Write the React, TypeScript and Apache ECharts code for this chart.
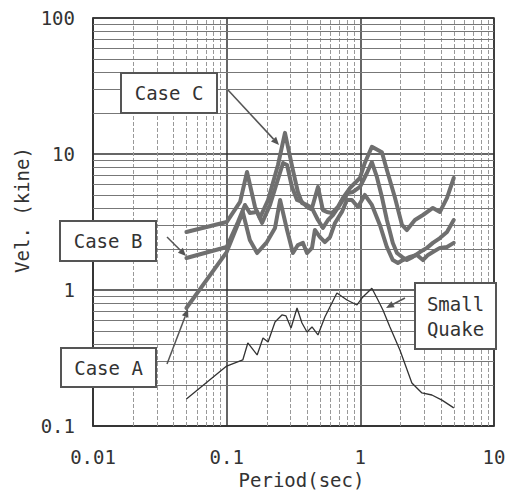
import React, { useEffect, useRef } from "react";
import * as echarts from "echarts";

// ---- tick labels ----
const xTickLabels = ["0.01", "0.1", "1", "10"];
const yTickLabels = ["0.1", "1", "10", "100"];

// ---- series data (period in sec, velocity in kine) ----
const caseAPeriod = [0.05, 0.1, 0.119, 0.132, 0.149, 0.169, 0.2, 0.23, 0.251, 0.283, 0.313, 0.341, 0.372, 0.399, 0.435, 0.457, 0.499, 0.543, 0.593, 0.646, 0.728, 0.794, 0.865, 0.959, 1.08, 1.22, 1.4, 1.58, 1.75, 1.91, 2.08, 2.35, 2.65, 2.94, 3.21, 3.49, 3.94, 4.45, 5.0];
const caseAVel = [0.737, 1.9, 2.9, 3.75, 2.33, 1.87, 2.25, 2.86, 4.59, 2.76, 1.87, 2.14, 2.22, 1.87, 2.04, 2.76, 2.45, 2.25, 2.45, 3.11, 3.75, 4.59, 4.59, 4.08, 5.0, 4.22, 3.01, 2.07, 1.66, 1.58, 1.66, 1.75, 1.81, 1.66, 1.81, 1.9, 2.04, 2.07, 2.22];

const caseBPeriod = [0.05, 0.1, 0.1215, 0.137, 0.149, 0.169, 0.184, 0.211, 0.264, 0.283, 0.308, 0.336, 0.366, 0.399, 0.442, 0.482, 0.525, 0.573, 0.624, 0.679, 0.741, 0.807, 0.881, 0.993, 1.12, 1.22, 1.33, 1.45, 1.58, 1.75, 1.88, 2.05, 2.23, 2.47, 2.79, 3.15, 3.49, 3.94, 4.45, 5.0];
const caseBVel = [1.72, 2.07, 3.16, 4.22, 3.68, 3.75, 3.11, 4.22, 8.59, 8.3, 5.72, 4.59, 4.44, 4.08, 3.87, 3.27, 2.86, 3.27, 3.56, 4.01, 4.59, 5.17, 5.26, 5.72, 7.25, 8.73, 6.78, 4.83, 3.27, 2.22, 1.87, 1.75, 1.66, 1.75, 1.9, 2.04, 2.22, 2.41, 2.67, 3.27];

const caseCPeriod = [0.05, 0.1, 0.126, 0.142, 0.163, 0.177, 0.204, 0.242, 0.273, 0.313, 0.341, 0.366, 0.399, 0.435, 0.482, 0.525, 0.562, 0.614, 0.679, 0.741, 0.836, 0.993, 1.08, 1.22, 1.45, 1.58, 1.81, 2.05, 2.23, 2.56, 2.94, 3.49, 3.94, 4.45, 5.0];
const caseCVel = [2.67, 3.16, 4.44, 7.38, 4.08, 3.38, 4.59, 8.3, 14.3, 7.62, 5.26, 4.36, 4.22, 4.01, 5.72, 3.87, 3.75, 3.68, 4.08, 4.75, 5.62, 6.66, 8.59, 11.3, 10.3, 7.62, 4.83, 3.01, 2.76, 3.27, 3.56, 4.01, 3.75, 4.75, 6.66];

const quakePeriod = [0.05, 0.1, 0.132, 0.144, 0.169, 0.187, 0.204, 0.23, 0.259, 0.278, 0.303, 0.336, 0.366, 0.399, 0.435, 0.482, 0.543, 0.668, 0.794, 0.944, 1.045, 1.22, 1.355, 1.476, 1.665, 1.977, 2.43, 2.89, 3.43, 4.08, 5.0];
const quakeVel = [0.158, 0.276, 0.306, 0.408, 0.333, 0.444, 0.415, 0.582, 0.655, 0.644, 0.526, 0.737, 0.572, 0.491, 0.535, 0.467, 0.633, 0.95, 0.844, 0.776, 0.889, 1.03, 0.844, 0.713, 0.535, 0.362, 0.207, 0.175, 0.169, 0.155, 0.136];

const xDecades = [0.01, 0.1, 1];
const yDecades = [0.1, 1, 10];
const minorMultipliers = [2, 3, 4, 5, 6, 7, 8, 9];

const pair = (xs: number[], ys: number[]) => xs.map((x, i) => [x, ys[i]]);

const FONT = '"DejaVu Sans Mono", monospace';
const TEXT = "#333";
const BOX = "#555";

function arrow(x1: number, y1: number, x2: number, y2: number) {
  const dx = x2 - x1;
  const dy = y2 - y1;
  const len = Math.sqrt(dx * dx + dy * dy);
  const ux = dx / len;
  const uy = dy / len;
  const hl = 8;
  const hw = 3.5;
  const bx = x2 - ux * hl;
  const by = y2 - uy * hl;
  return [
    {
      type: "line",
      shape: { x1, y1, x2: bx, y2: by },
      style: { stroke: BOX, lineWidth: 1.5 },
      z: 20,
    },
    {
      type: "polygon",
      shape: {
        points: [
          [x2, y2],
          [bx - uy * hw, by + ux * hw],
          [bx + uy * hw, by - ux * hw],
        ],
      },
      style: { fill: BOX },
      z: 20,
    },
  ];
}

function box(x: number, y: number, w: number, h: number, text: string) {
  return [
    {
      type: "rect",
      shape: { x, y, width: w, height: h },
      style: { fill: "#fff", stroke: BOX, lineWidth: 2 },
      z: 20,
    },
    {
      type: "text",
      x: x + w / 2,
      y: y + h / 2,
      style: {
        text,
        align: "center",
        verticalAlign: "middle",
        fill: TEXT,
        font: `19px ${FONT}`,
        lineHeight: 25,
      },
      z: 21,
    },
  ];
}

export default function App() {
  const ref = useRef<HTMLDivElement>(null);

  useEffect(() => {
    if (!ref.current) return;
    const chart = echarts.init(ref.current, null, { renderer: "svg" });

    const minorX = xDecades.flatMap((d) => minorMultipliers.map((m) => +(d * m).toPrecision(3)));
    const minorY = yDecades.flatMap((d) => minorMultipliers.map((m) => +(d * m).toPrecision(3)));

    const gridLines = [
      ...minorX.map((v) => ({
        xAxis: v,
        lineStyle: { color: "#999", width: 1, type: [4, 2] },
      })),
      ...minorY.map((v) => ({
        yAxis: v,
        lineStyle: { color: "#777", width: 1, type: "solid" },
      })),
    ];

    const thick = (name: string, xs: number[], ys: number[]) => ({
      name,
      type: "line",
      data: pair(xs, ys),
      showSymbol: false,
      symbol: "none",
      z: 5,
      lineStyle: { color: "#6f6f6f", width: 4, join: "round", cap: "round" },
    });

    chart.setOption({
      animation: false,
      backgroundColor: "#fff",
      grid: {
        left: 93,
        right: 12,
        top: 18,
        bottom: 65,
        show: true,
        borderColor: "#333",
        borderWidth: 1.5,
        containLabel: false,
        outerBoundsMode: "none",
      },
      xAxis: {
        type: "log",
        logBase: 10,
        min: 0.01,
        max: 10,
        name: "Period(sec)",
        nameLocation: "middle",
        nameGap: 44,
        nameTextStyle: { color: TEXT, fontFamily: FONT, fontSize: 19, padding: [0, 0, 0, 16] },
        axisLine: { show: true, lineStyle: { color: "#333", width: 1.5 } },
        axisTick: { show: false },
        axisLabel: {
          color: TEXT,
          fontFamily: FONT,
          fontSize: 19,
          margin: 21,
          formatter: (v: number) => xTickLabels[Math.round(Math.log10(v)) + 2] ?? "",
        },
        splitLine: { show: true, lineStyle: { color: "#333", width: 1.5 } },
      },
      yAxis: {
        type: "log",
        logBase: 10,
        min: 0.1,
        max: 100,
        axisLine: { show: true, lineStyle: { color: "#333", width: 1.5 } },
        axisTick: { show: false },
        axisLabel: {
          color: TEXT,
          fontFamily: FONT,
          fontSize: 19,
          margin: 18,
          formatter: (v: number) => yTickLabels[Math.round(Math.log10(v)) + 1] ?? "",
        },
        splitLine: { show: true, lineStyle: { color: "#333", width: 1.5 } },
      },
      series: [
        {
          name: "grid",
          type: "line",
          data: [],
          z: 1,
          silent: true,
          markLine: {
            silent: true,
            symbol: ["none", "none"],
            label: { show: false },
            animation: false,
            data: gridLines,
          },
        },
        thick("Case A", caseAPeriod, caseAVel),
        thick("Case B", caseBPeriod, caseBVel),
        thick("Case C", caseCPeriod, caseCVel),
        {
          name: "Small Quake",
          type: "line",
          data: pair(quakePeriod, quakeVel),
          showSymbol: false,
          symbol: "none",
          z: 6,
          lineStyle: { color: "#333", width: 1.3 },
        },
      ],
      graphic: [
        {
          type: "text",
          x: 22,
          y: 210,
          rotation: Math.PI / 2,
          style: {
            text: "Vel. (kine)",
            align: "center",
            verticalAlign: "middle",
            fill: TEXT,
            font: `19px ${FONT}`,
          },
        },
        ...arrow(228, 90, 279, 145),
        ...arrow(167, 237, 186, 256),
        ...arrow(167, 364, 188, 309),
        ...arrow(405, 298, 386, 308),
        ...box(121, 73, 96, 40, "Case C"),
        ...box(60, 221, 96, 40, "Case B"),
        ...box(61, 348, 95, 39, "Case A"),
        ...box(415, 283, 81, 66, "Small\nQuake"),
      ],
    });

    return () => chart.dispose();
  }, []);

  return (
    <div
      ref={ref}
      style={{ position: "fixed", left: 0, top: 0, width: 506, height: 491, background: "#fff" }}
    />
  );
}
